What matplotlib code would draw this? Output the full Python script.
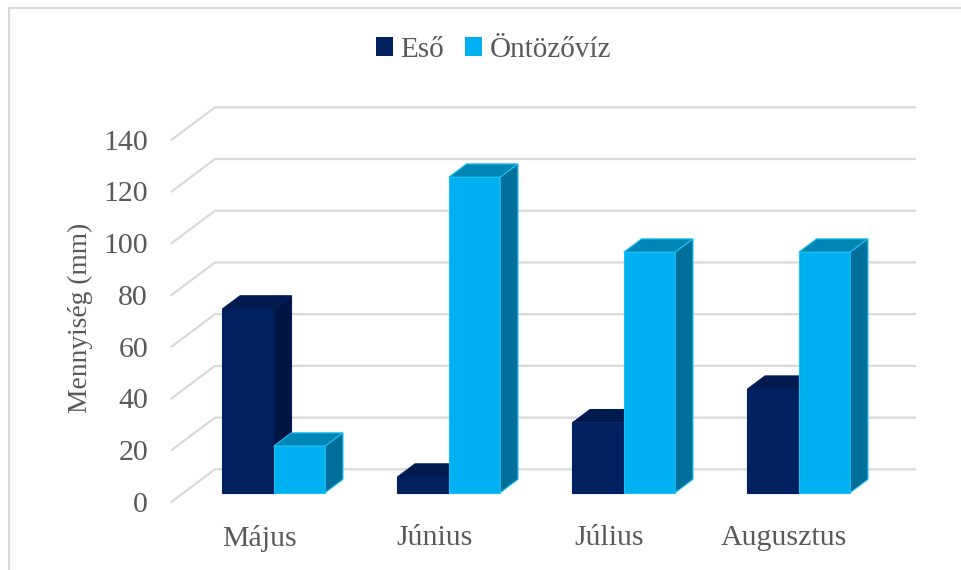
import matplotlib
matplotlib.use('Agg')
import matplotlib.pyplot as plt
from matplotlib.patches import Polygon, Rectangle
from matplotlib.lines import Line2D

plt.rcParams['font.family'] = ['Liberation Serif', 'DejaVu Serif']

months = ['Május', 'Június', 'Július', 'Augusztus']
eso = [71, 6, 27, 40]
ontozo = [18, 122, 93, 93]
series_names = ['Eső', 'Öntözővíz']
yticks = [0, 20, 40, 60, 80, 100, 120, 140]

# oblique "3D" look: offset of the back wall in data units
kx = 0.2474     # category units
ky = 12.53      # value units
z0, z1 = 0.28, 0.69   # bar depth (0 = front, 1 = back)
bw = 0.294

colors = {
    'Eső': ('#002060', '#001A4D', '#001540', '#002060'),
    'Öntözővíz': ('#00B0F0', '#0086B5', '#00709A', '#1EC0F5'),
}
txt = '#595959'

fig = plt.figure(figsize=(9.62, 5.70), dpi=100)
ax = fig.add_axes([171.7 / 962, 1 - 501.7 / 570, 743.3 / 962, 394.4 / 570])
ax.set_xlim(0, 4 + kx)
ax.set_ylim(0, 140 + ky)
for s in ax.spines.values():
    s.set_visible(False)

# gridlines: left wall diagonal + back wall
for v in yticks:
    ax.plot([0, kx, 4 + kx], [v, v + ky, v + ky], color='#D9D9D9', lw=1.6,
            clip_on=False, zorder=1)


def bar3d(x, h, front, top, side, edge):
    xa = x + z0 * kx
    ya = z0 * ky
    d = (z1 - z0)
    ax.add_patch(Rectangle((xa, ya), bw, h, facecolor=front, edgecolor=edge,
                           lw=0.8, zorder=3, clip_on=False))
    ax.add_patch(Polygon([(xa, ya + h), (xa + bw, ya + h),
                          (xa + bw + d * kx, ya + h + d * ky),
                          (xa + d * kx, ya + h + d * ky)],
                         facecolor=top, edgecolor=edge, lw=0.8, zorder=3,
                         clip_on=False))
    ax.add_patch(Polygon([(xa + bw, ya), (xa + bw + d * kx, ya + d * ky),
                          (xa + bw + d * kx, ya + h + d * ky), (xa + bw, ya + h)],
                         facecolor=side, edgecolor=edge, lw=0.8, zorder=3,
                         clip_on=False))


for i in range(len(months)):
    c = i + 0.514
    bar3d(c - bw, eso[i], *colors['Eső'])
    bar3d(c, ontozo[i], *colors['Öntözővíz'])

ax.set_yticks(yticks)
ax.set_yticklabels([str(v) for v in yticks])
ax.set_xticks([i + 0.5 for i in range(len(months))])
ax.set_xticklabels(months)
ax.tick_params(axis='y', length=0, pad=17, labelsize=21.5, labelcolor=txt)
ax.tick_params(axis='x', length=0, pad=17, labelsize=21.5, labelcolor=txt)
ax.set_ylabel('Mennyiség (mm)', fontsize=19.8, color=txt)
ax.yaxis.set_label_coords(-0.106, 0.466)

handles = [Rectangle((0, 0), 1, 1, facecolor=colors[n][0]) for n in series_names]
fig.legend(handles, series_names, loc='center', bbox_to_anchor=(0.513, 0.913),
           ncol=2, frameon=False, fontsize=21, labelcolor=txt,
           handlelength=0.6, handleheight=0.6, handletextpad=0.25,
           columnspacing=0.7)

# chart border (only top and left visible)
fig.add_artist(Line2D([8.5 / 962, 8.5 / 962], [0, 1 - 7.5 / 570],
                      transform=fig.transFigure, color='#D9D9D9', lw=1.5))
fig.add_artist(Line2D([8.5 / 962, 1], [1 - 7.5 / 570, 1 - 7.5 / 570],
                      transform=fig.transFigure, color='#D9D9D9', lw=1.5))

fig.savefig('out.png', dpi=100, facecolor='white')
